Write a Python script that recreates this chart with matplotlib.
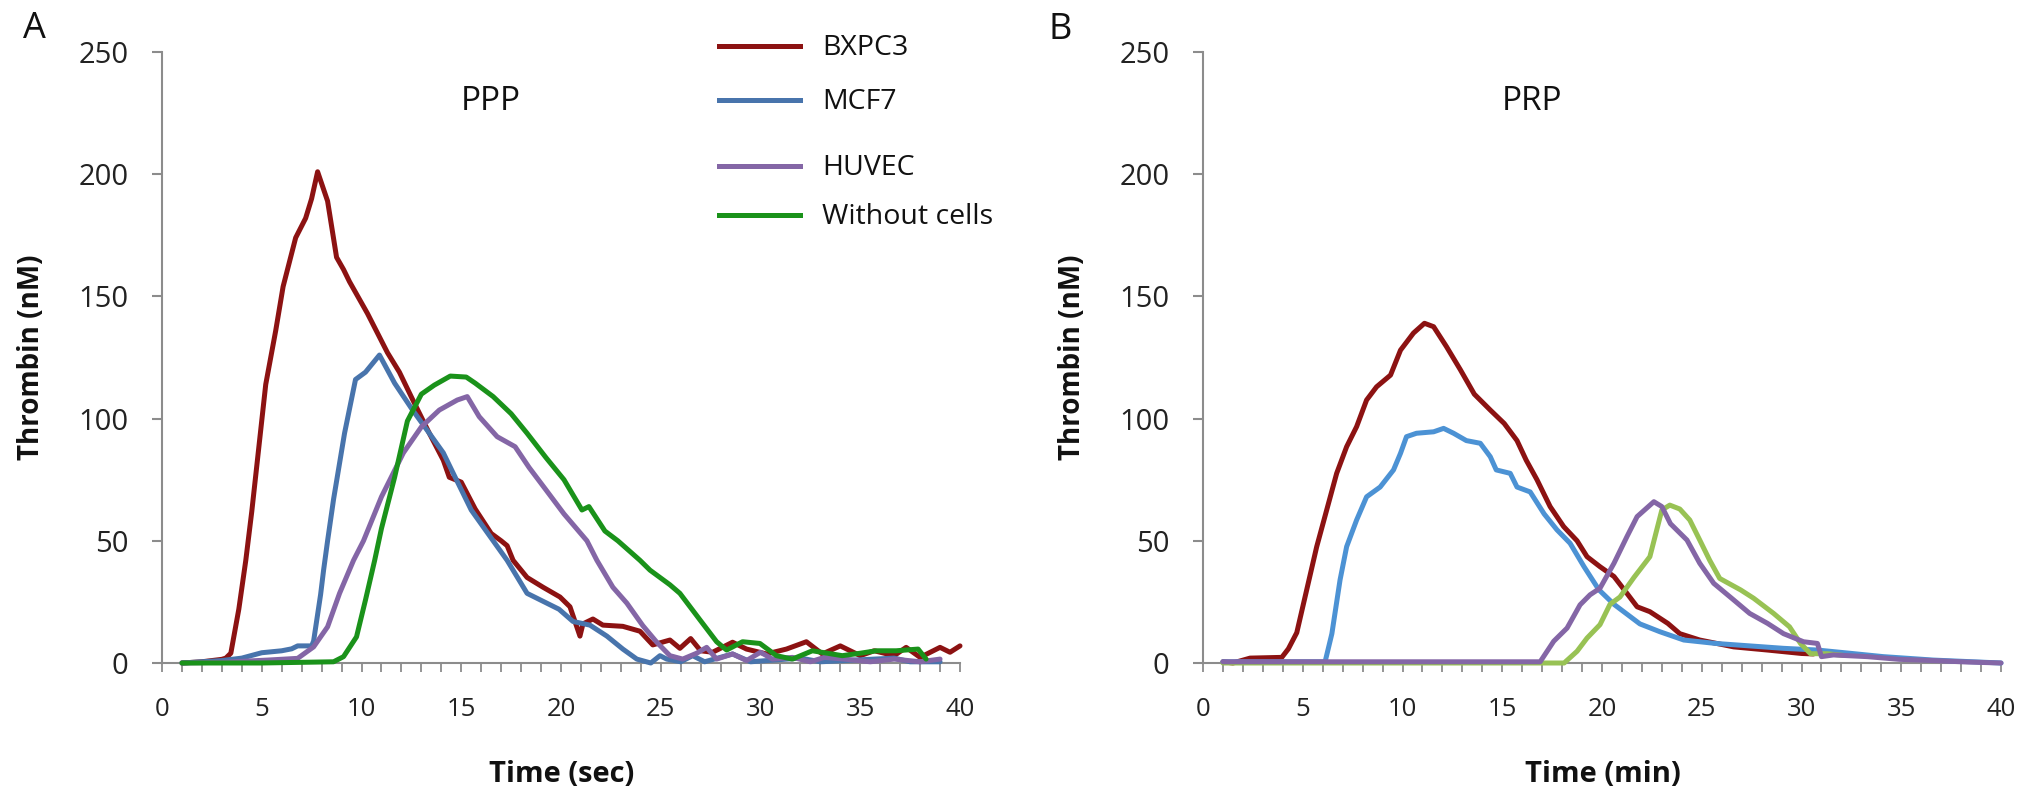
import matplotlib
matplotlib.use("Agg")
import matplotlib.pyplot as plt
from matplotlib.lines import Line2D
from matplotlib.ticker import MultipleLocator

plt.rcParams['font.family'] = ['Open Sans', 'DejaVu Sans']

# ---------------- Panel A (PPP) ----------------
a_bxpc3_t = [1, 2, 2.5, 3, 3.2, 3.45, 3.85, 4.2, 4.5, 5.2, 5.7, 6.07, 6.7, 7.2, 7.5, 7.8, 8.3, 8.75,
             9.1, 9.4, 10.3, 10.8, 11.3, 11.9, 12.55, 13.4, 14.1, 14.4, 15.0, 15.7, 16.5, 17.0, 17.3,
             17.6, 18.3, 19.1, 19.95, 20.45, 20.95, 21.1, 21.6, 22.1, 23.1, 23.96, 24.6, 25.46, 25.96,
             26.5, 27.0, 27.6, 28.6, 29.3, 30.3, 31.3, 32.3, 33.1, 34.0, 35.0, 35.7, 36.7, 37.3, 38.0,
             39.0, 39.5, 40.0]
a_bxpc3_y = [0, 0.5, 1, 1.5, 2, 4, 22, 42, 62, 114, 136, 154, 174, 182, 190, 201, 189, 166,
             161, 156, 143, 135, 127, 119, 108, 94, 83, 76, 74, 63, 53, 50, 48,
             42, 35, 31, 27, 23, 11, 16, 18, 15.5, 15, 13, 7.4, 9.4, 6,
             10, 5, 4.4, 8.5, 5.7, 3.7, 5.7, 8.7, 3.7, 7, 3, 5, 3, 6.4, 2.3,
             6.4, 4.4, 7]

a_mcf7_t = [1, 2, 3, 4, 5, 6, 6.5, 6.8, 7.5, 7.6, 7.95, 8.1, 8.3, 8.6, 9.15, 9.7, 10.2, 10.9, 11.66,
            12.56, 13.4, 14.1, 14.6, 15.5, 16.6, 17.3, 18.3, 19.9, 20.6, 21.45, 22.3, 23.1, 23.8,
            24.5, 24.96, 25.3, 26.0, 26.6, 27.2, 28.6, 29.5, 32, 33, 36.7, 37.5, 39]
a_mcf7_y = [0, 0.5, 1, 2, 4.2, 5, 5.8, 7, 7, 9, 28, 38, 50, 67, 94, 116, 119, 126, 114.5,
            103.5, 94, 86, 77.6, 62.6, 50, 42, 28.5, 22, 17, 15.5, 11, 5.7, 1.6,
            0, 3, 1.6, 0.5, 3, 0.5, 3.7, 0.5, 2, 0.5, 2, 0.5, 0.5]

a_huvec_t = [1, 3, 5.3, 6.8, 7.6, 8.3, 8.9, 9.6, 10.1, 11, 12.1, 13, 13.9, 14.8, 15.3, 15.9, 16.8,
             17.7, 18.4, 19.25, 20.15, 21.3, 21.8, 22.6, 23.3, 24.1, 24.8, 25.46, 26.1, 26.8, 27.3,
             27.8, 28.6, 29.3, 30, 30.6, 31.6, 32.5, 33.2, 34.2, 35.5, 36.7, 38, 39]
a_huvec_y = [0, 0.3, 1.2, 1.9, 6.6, 14.8, 28.5, 42, 50, 68, 86, 96.6, 103.5, 107.6, 109, 100.8, 92.6,
             88.5, 80, 70.8, 61, 50, 42, 31, 24.5, 15.3, 8.5, 3, 1.6, 4, 6.4,
             1.6, 3.7, 1, 4.4, 1.6, 2.3, 0.5, 2.3, 1.6, 0.5, 1.6, 0.5, 1.6]

a_nocell_t = [1, 5, 8.6, 9.1, 9.75, 10.2, 10.66, 11.0, 11.66, 12.3, 13.0, 13.65, 14.45, 15.25, 15.7,
              16.6, 17.5, 18.3, 19.25, 20.15, 21.05, 21.4, 22.2, 22.85, 23.96, 24.46, 25.46, 25.96,
              26.97, 27.8, 28.3, 29.1, 29.97, 30.8, 31.6, 32.6, 34.1, 35.0, 35.8, 36.8, 37.9, 38.3]
a_nocell_y = [0, 0, 0.5, 2.6, 10.7, 25.8, 42, 55, 76, 99, 110, 113.7, 117.4, 117, 114.5,
              109, 102, 94, 84, 75, 62.6, 64, 54, 50, 42, 38, 32, 28.5,
              17.6, 8.7, 5.3, 8.7, 8, 3, 1.6, 5, 3, 4, 5, 5, 5.7, 1.6]

# ---------------- Panel B (PRP) ----------------
b_bxpc3_t = [1, 1.5, 2.36, 3.95, 4.28, 4.7, 5.2, 5.7, 6.2, 6.7, 7.2, 7.7, 8.2, 8.7, 9.4, 9.9, 10.55,
             11.1, 11.56, 12.2, 12.9, 13.6, 14.4, 15.1, 15.74, 16.2, 16.74, 17.4, 18.08, 18.75, 19.25,
             19.9, 20.6, 21.25, 21.76, 22.4, 23.3, 23.9, 24.9, 26.6, 28.3, 30, 30.6]
b_bxpc3_y = [0.5, 0, 2, 2.3, 5.8, 12.4, 30, 47.6, 62.6, 77.6, 88.5, 96.7, 107.6, 113, 117.8, 128, 135,
             139, 137.6, 129.5, 120, 110, 103.5, 98, 91, 83, 75, 64, 55.8, 50, 43.5,
             39.4, 35.4, 28.5, 23, 21, 16.2, 12, 9.4, 6.6, 5.3, 3.9, 3.7]

b_mcf7_t = [1, 3, 6.12, 6.46, 6.87, 7.2, 7.7, 8.2, 8.88, 9.55, 9.9, 10.2, 10.7, 11.56, 12.06, 12.56,
            13.2, 13.9, 14.4, 14.7, 15.4, 15.74, 16.4, 17.1, 17.74, 18.4, 19.1, 19.84, 20.6, 21.25,
            21.9, 22.9, 24.1, 25.7, 27.4, 29.1, 30.8, 32.4, 34.1, 36.6, 40]
b_mcf7_y = [0.5, 0.5, 0.5, 12, 34, 47.6, 58.5, 68, 72, 79, 85.8, 92.6, 94, 94.6, 96, 94,
            91, 89.9, 84.4, 79, 77.6, 72, 70, 61, 54.5, 49, 39.4, 30, 24, 20,
            16, 12.8, 9.4, 8, 7, 6, 5.3, 4, 2.6, 1.2, 0]

b_huvec_t = [1, 4, 8, 12, 16.9, 17.58, 18.25, 18.9, 19.4, 19.9, 20.6, 21.25, 21.76, 22.6, 23.0, 23.43,
             24.26, 24.9, 25.6, 26.6, 27.4, 28.3, 29.1, 30.1, 30.8, 31.0, 31.6, 33.3, 34.9, 36.6,
             38.3, 40]
b_huvec_y = [0.5, 0.5, 0.5, 0.5, 0.5, 8.9, 14.3, 23.8, 27.9, 30.6, 40.8, 51.7, 59.9, 66, 64, 57,
             50.3, 40.8, 32.6, 25.8, 20.3, 16.2, 12, 8.7, 8, 2.6, 3.3, 2.6, 1.5, 1,
             0.4, 0]

b_nocell_t = [1, 10, 18.1, 18.75, 19.25, 19.9, 20.4, 20.9, 21.6, 22.4, 23.0, 23.4, 23.9, 24.4, 24.9,
              25.4, 25.9, 26.95, 27.6, 28.6, 29.4, 29.95, 30.45, 31.3, 32.1]
b_nocell_y = [0, 0, 0, 4.8, 10.2, 15.7, 24, 27, 35, 43.5, 62.6, 64.6, 63, 58.5, 50.3,
              42, 34.6, 29.9, 26.5, 20.3, 14.8, 8, 3.8, 3.8, 3.1]

labels = ['BXPC3', 'MCF7', 'HUVEC', 'Without cells']
titles = ['PPP', 'PRP']
xlabels = ['Time (sec)', 'Time (min)']
panel_letters = ['A', 'B']
y_ticks = [0, 50, 100, 150, 200, 250]
x_ticks = [0, 5, 10, 15, 20, 25, 30, 35, 40]

colors_a = ['#8C1212', '#4874AC', '#8466A6', '#1A921A']
colors_b = ['#8C1212', '#4C92D4', '#8466A6', '#98C254']

W, H = 2031, 808
fig = plt.figure(figsize=(W / 100, H / 100), dpi=100)

ax_l, ax_b, ax_w, ax_h = 162, 663, 798, 611
axA = fig.add_axes([ax_l / W, (H - ax_b) / H, ax_w / W, ax_h / H])
axB = fig.add_axes([1203 / W, (H - ax_b) / H, ax_w / W, ax_h / H])

seriesA = [(a_bxpc3_t, a_bxpc3_y), (a_mcf7_t, a_mcf7_y), (a_huvec_t, a_huvec_y), (a_nocell_t, a_nocell_y)]
seriesB = [(b_bxpc3_t, b_bxpc3_y), (b_mcf7_t, b_mcf7_y), (b_huvec_t, b_huvec_y), (b_nocell_t, b_nocell_y)]

zA = [2, 3, 4, 5]
zB = [2, 3, 5, 4]

LW = 3.6
grey = '#8C8C8C'
for i, (ax, series, cols, zs) in enumerate([(axA, seriesA, colors_a, zA), (axB, seriesB, colors_b, zB)]):
    for (t, y), c, z, lab in zip(series, cols, zs, labels):
        ax.plot(t, y, color=c, lw=LW, zorder=z, clip_on=False, solid_joinstyle='round',
                solid_capstyle='round', label=lab)
    ax.set_xlim(0, 40)
    ax.set_ylim(0, 250)
    ax.set_xticks(x_ticks)
    ax.xaxis.set_minor_locator(MultipleLocator(1))
    ax.set_yticks(y_ticks)
    for s in ['top', 'right']:
        ax.spines[s].set_visible(False)
    for s in ['left', 'bottom']:
        ax.spines[s].set_color(grey)
        ax.spines[s].set_linewidth(1.5)
    ax.tick_params(axis='y', which='major', direction='out', length=7, width=1.5, color=grey,
                   pad=17, labelsize=21, labelcolor='#222222')
    ax.tick_params(axis='x', which='both', direction='out', length=6.5, width=1.3, color=grey,
                   pad=18, labelsize=18.5, labelcolor='#222222')
    ax.set_ylabel('Thrombin (nM)', fontsize=20, fontweight='bold', color='#111111', va='center')
    ax.yaxis.set_label_coords(-0.164, 0.5)
    ax.set_xlabel(xlabels[i], fontsize=21, fontweight='bold', color='#111111', va='center')
    ax.xaxis.set_label_coords(0.501, -0.183)
    ax.text(0.412, 0.905, titles[i], transform=ax.transAxes, ha='center', va='baseline',
            fontsize=24, color='#111111')

fig.text(34 / W, 1 - 29 / H, panel_letters[0], ha='center', va='center', fontsize=26, color='#111111')
fig.text(1060 / W, 1 - 30 / H, panel_letters[1], ha='center', va='center', fontsize=26, color='#111111')

# legend (manual, with Excel-style irregular spacing)
leg_y = [46, 100, 166, 215]
for lab, c, yy in zip(labels, colors_a, leg_y):
    fig.add_artist(Line2D([719 / W, 800 / W], [1 - yy / H, 1 - yy / H], color=c, lw=LW,
                          transform=fig.transFigure))
    fig.text(822 / W, 1 - (yy + 2) / H, lab, ha='left', va='center', fontsize=20.5, color='#111111')

fig.savefig('out.png', dpi=100, facecolor='white')
